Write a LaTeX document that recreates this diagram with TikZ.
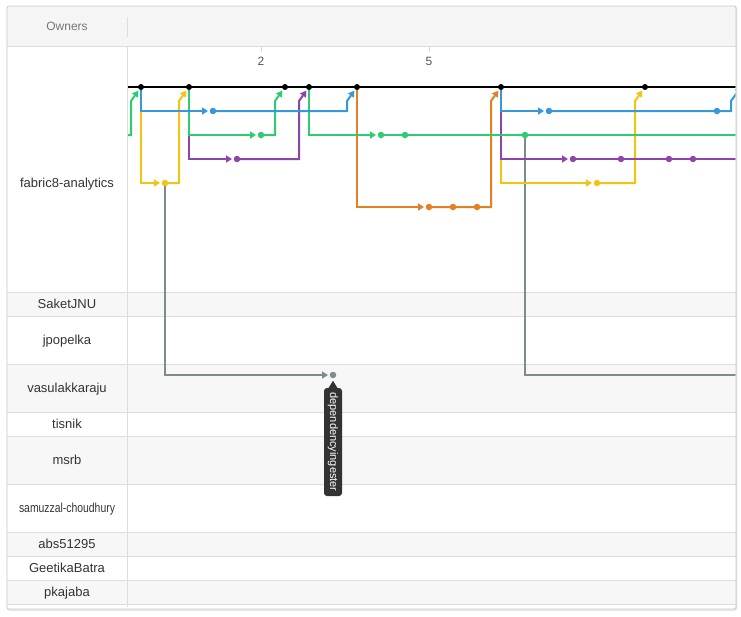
\documentclass[tikz,border=0pt]{standalone}
\usepackage{fontspec}
\setmainfont{Liberation Sans}
\usetikzlibrary{arrows.meta,calc}
\definecolor{cblue}{HTML}{3498DB}
\definecolor{cgreen}{HTML}{2ECC71}
\definecolor{cpurple}{HTML}{8E44AD}
\definecolor{cyellow}{HTML}{F1C40F}
\definecolor{corange}{HTML}{E67E22}
\definecolor{cgray}{HTML}{7F8C8D}
\definecolor{hdrfill}{HTML}{F5F5F5}
\definecolor{rowfill}{HTML}{F7F7F7}
\definecolor{gridc}{HTML}{DDDDDD}
\definecolor{framec}{HTML}{C8C8C8}
\definecolor{shadowc}{HTML}{E4E4E4}
\definecolor{labelc}{HTML}{333333}
\definecolor{ownerc}{HTML}{777777}
\definecolor{axisc}{HTML}{555555}
\definecolor{tipc}{HTML}{333333}
\pgfdeclarelayer{bg}
\pgfdeclarelayer{lines}
\pgfsetlayers{bg,lines,main}
\begin{document}
\begin{tikzpicture}[x=1pt,y=-1pt,
  lane/.style={line width=2pt},
  arr/.style={-{Triangle[length=6pt,width=7pt]}},
  mdot/.style={circle,fill=black,inner sep=0pt,minimum size=6pt,outer sep=1.5pt},
  cdot/.style={circle,fill=#1,inner sep=0pt,minimum size=6.5pt,outer sep=1.75pt},
  rowlabel/.style={anchor=base,text=labelc,font=\fontsize{13}{15}\selectfont},
  axislabel/.style={anchor=base,text=axisc,font=\fontsize{12}{14}\selectfont},
  tipbox/.style={fill=tipc,text=white,rounded corners=3pt,minimum width=108pt,minimum height=18pt,inner sep=0pt,font=\fontsize{11}{13}\selectfont}]
\useasboundingbox (0,0) rectangle (741,616);

% ---------- table background ----------
\begin{pgfonlayer}{bg}
\draw[shadowc,line width=1.5pt,rounded corners=2pt] (7.5,7) rectangle (736.5,610);
\fill[white] (7,6) rectangle (736,609);
\fill[hdrfill] (7,6) rectangle (736,46);
\foreach \a/\b in {292/316,364/412,436/484,532/556,580/604}
  \fill[rowfill] (7,\a) rectangle (736,\b);
\foreach \y in {46,292,316,364,412,436,484,532,556,580,604}
  \draw[gridc] (7,\y) -- (736,\y);
\draw[gridc] (127.5,46) -- (127.5,607);
\draw[gridc] (127.5,17) -- (127.5,37);
\draw[gridc] (261,46) -- (261,52);
\draw[gridc] (429,46) -- (429,52);
\end{pgfonlayer}

% ---------- labels ----------
\node[anchor=base,text=ownerc,font=\fontsize{12}{14}\selectfont] (owners) at (67,30.3) {Owners};
\node[axislabel] (ax2) at (261,65.3) {2};
\node[axislabel] (ax5) at (429,65.3) {5};
\node[rowlabel] (l1) at (67,187.5) {fabric8-analytics};
\node[rowlabel] (l2) at (67,308) {SaketJNU};
\node[rowlabel] (l3) at (67,344) {jpopelka};
\node[rowlabel] (l4) at (67,392) {vasulakkaraju};
\node[rowlabel] (l5) at (67,428) {tisnik};
\node[rowlabel] (l6) at (67,464) {msrb};
\node[rowlabel] (l7) at (67,512) {\scalebox{0.8}[1]{samuzzal-choudhury}};
\node[rowlabel] (l8) at (67,548) {abs51295};
\node[rowlabel] (l9) at (67,572) {GeetikaBatra};
\node[rowlabel] (l10) at (67,596) {pkajaba};

% ---------- commit dots ----------
\node[mdot] (m1) at (141,87) {};
\node[mdot] (m2) at (189,87) {};
\node[mdot] (m3) at (285,87) {};
\node[mdot] (m4) at (309,87) {};
\node[mdot] (m5) at (357,87) {};
\node[mdot] (m6) at (501,87) {};
\node[mdot] (m7) at (645,87) {};
\coordinate (m8) at (741,87);
\coordinate (mS) at (128,87);
\coordinate (mE) at (736,87);

\node[cdot=cblue] (b1) at (213,111) {};
\node[cdot=cblue] (b2) at (549,111) {};
\node[cdot=cblue] (b3) at (717,111) {};
\node[cdot=cgreen] (g1) at (261,135) {};
\node[cdot=cgreen] (g2) at (381,135) {};
\node[cdot=cgreen] (g3) at (405,135) {};
\node[cdot=cgreen] (g4) at (525,135) {};
\coordinate (gS) at (128,135);
\coordinate (gE) at (736,135);
\node[cdot=cpurple] (p1) at (237,159) {};
\node[cdot=cpurple] (p2) at (573,159) {};
\node[cdot=cpurple] (p3) at (621,159) {};
\node[cdot=cpurple] (p4) at (669,159) {};
\node[cdot=cpurple] (p5) at (693,159) {};
\coordinate (pE) at (736,159);
\node[cdot=cyellow] (y1) at (165,183) {};
\node[cdot=cyellow] (y2) at (597,183) {};
\node[cdot=corange] (o1) at (429,207) {};
\node[cdot=corange] (o2) at (453,207) {};
\node[cdot=corange] (o3) at (477,207) {};
\node[cdot=cgray] (r1) at (333,375) {};
\coordinate (rE) at (736,375);

% ---------- connectors ----------
\begin{pgfonlayer}{lines}
\begin{scope}
\clip (128,47) rectangle (735.5,608);
% gray
\draw[lane,cgray,arr] (y1.center) |- (r1);
\draw[lane,cgray] (g4.center) |- (rE);
% yellow
\draw[lane,cyellow,arr] (m1.center) |- (y1);
\draw[lane,cyellow,arr] (y1.center) -- (179,183) -- (179,101) -- (m2);
\draw[lane,cyellow,arr] (m6.center) |- (y2);
\draw[lane,cyellow,arr] (y2.center) -- (635,183) -- (635,101) -- (m7);
% purple
\draw[lane,cpurple,arr] (m2.center) |- (p1);
\draw[lane,cpurple,arr] (p1.center) -- (299,159) -- (299,101) -- (m4);
\draw[lane,cpurple,arr] (m6.center) |- (p2);
\draw[lane,cpurple] (p2.center) -- (p3.center) -- (p4.center) -- (p5.center) -- (pE);
% orange
\draw[lane,corange,arr] (m5.center) |- (o1);
\draw[lane,corange,arr] (o1.center) -- (o2.center) -- (o3.center) -- (491,207) -- (491,101) -- (m6);
% green
\draw[lane,cgreen,arr] (gS) -- (131,135) -- (131,101) -- (m1);
\draw[lane,cgreen,arr] (m2.center) |- (g1);
\draw[lane,cgreen,arr] (g1.center) -- (275,135) -- (275,101) -- (m3);
\draw[lane,cgreen,arr] (m4.center) |- (g2);
\draw[lane,cgreen] (g2.center) -- (g3.center) -- (g4.center) -- (gE);
% blue
\draw[lane,cblue,arr] (m1.center) |- (b1);
\draw[lane,cblue,arr] (b1.center) -- (347,111) -- (347,101) -- (m5);
\draw[lane,cblue,arr] (m6.center) |- (b2);
\draw[lane,cblue,arr] (b2.center) -- (b3.center) -- (731,111) -- (731,101) -- (m8);
% main line
\draw[line width=2.2pt,black] (mS) -- (mE);
\end{scope}
\end{pgfonlayer}

% ---------- frame ----------
\draw[framec,line width=0.8pt,rounded corners=2pt] (7,6) rectangle (736,609);

% ---------- tooltip ----------
\node[tipbox,rotate=-90] (tip) at (333,442) {dependencyingester};
\fill[tipc] ($(tip.west)+(-5,1)$) -- ($(tip.west)+(0,-7)$) -- ($(tip.west)+(5,1)$) -- cycle;
\end{tikzpicture}
\end{document}
